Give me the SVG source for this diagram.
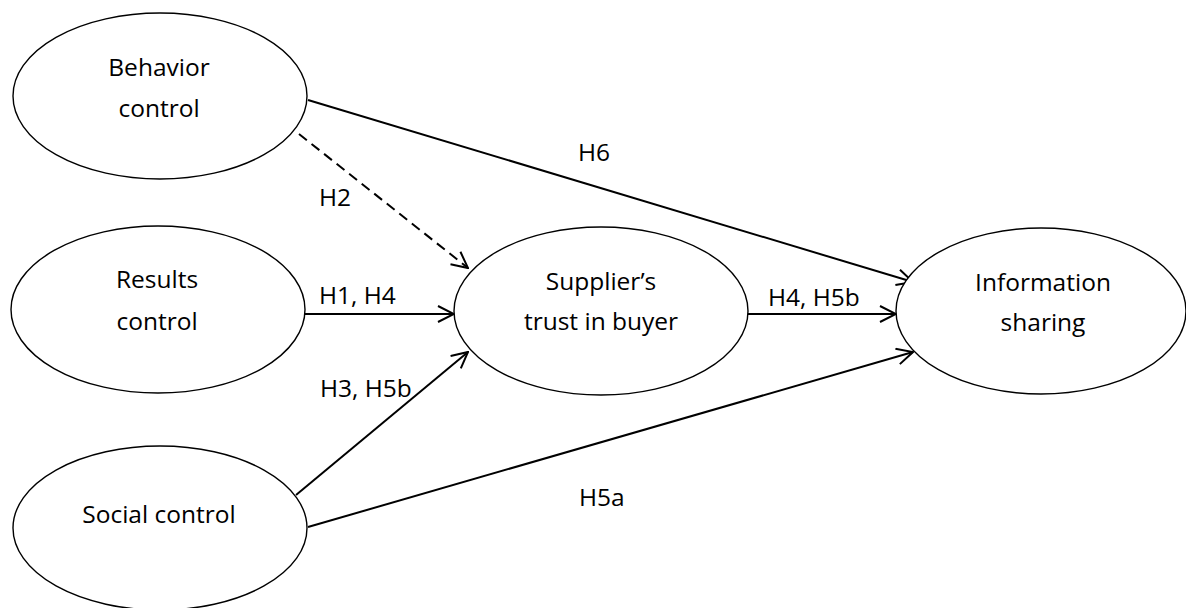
<svg xmlns="http://www.w3.org/2000/svg" width="1186" height="608" viewBox="0 0 1186 608">
  <style>
    .node ellipse { fill: #ffffff; stroke: #000000; stroke-width: 1.4; }
    .node text { font-family: "Open Sans", "Liberation Sans", sans-serif; font-size: 24.5px; fill: #000000; text-anchor: middle; }
    .edge { stroke: #000000; stroke-width: 2; fill: none; marker-end: url(#arrow); }
    .dashed { stroke-dasharray: 10 6; }
    .label { font-family: "Open Sans", "Liberation Sans", sans-serif; font-size: 24.5px; fill: #000000; }
  </style>
  <defs>
    <marker id="arrow" viewBox="0 0 18 18" refX="17" refY="9" markerWidth="18" markerHeight="18" markerUnits="userSpaceOnUse" orient="auto">
      <path d="M1,1 L17,9 L1,17" fill="none" stroke="#000000" stroke-width="2"/>
    </marker>
  </defs>
  <rect width="1186" height="608" fill="#ffffff"/>

  <!-- connectors -->
  <g id="connectors">
    <line class="edge" x1="308" y1="100" x2="913" y2="282"/>
    <line class="edge dashed" x1="299" y1="134" x2="468" y2="268"/>
    <line class="edge" x1="305" y1="314" x2="454" y2="314"/>
    <line class="edge" x1="748" y1="314" x2="896" y2="314"/>
    <line class="edge" x1="296" y1="495" x2="468" y2="352"/>
    <line class="edge" x1="308" y1="527" x2="913" y2="352"/>
    <text class="label" x="578" y="161">H6</text>
    <text class="label" x="319" y="206">H2</text>
    <text class="label" x="319" y="304">H1, H4</text>
    <text class="label" x="320" y="397">H3, H5b</text>
    <text class="label" x="768" y="306">H4, H5b</text>
    <text class="label" x="579" y="506">H5a</text>
  </g>

  <g id="behavior-control" class="node">
    <ellipse cx="160" cy="96" rx="147" ry="83"/>
    <text x="159" y="76">Behavior</text>
    <text x="159" y="117">control</text>
  </g>

  <g id="results-control" class="node">
    <ellipse cx="158" cy="309.5" rx="147" ry="83.5"/>
    <text x="157" y="288">Results</text>
    <text x="157" y="330">control</text>
  </g>

  <g id="social-control" class="node">
    <ellipse cx="160" cy="528" rx="147" ry="82"/>
    <text x="159" y="523">Social control</text>
  </g>

  <g id="supplier-trust" class="node">
    <ellipse cx="601" cy="311" rx="147" ry="84"/>
    <text x="601" y="290">Supplier’s</text>
    <text x="601" y="330">trust in buyer</text>
  </g>

  <g id="information-sharing" class="node">
    <ellipse cx="1041" cy="311" rx="145" ry="83"/>
    <text x="1043" y="291">Information</text>
    <text x="1043" y="331">sharing</text>
  </g>
</svg>
